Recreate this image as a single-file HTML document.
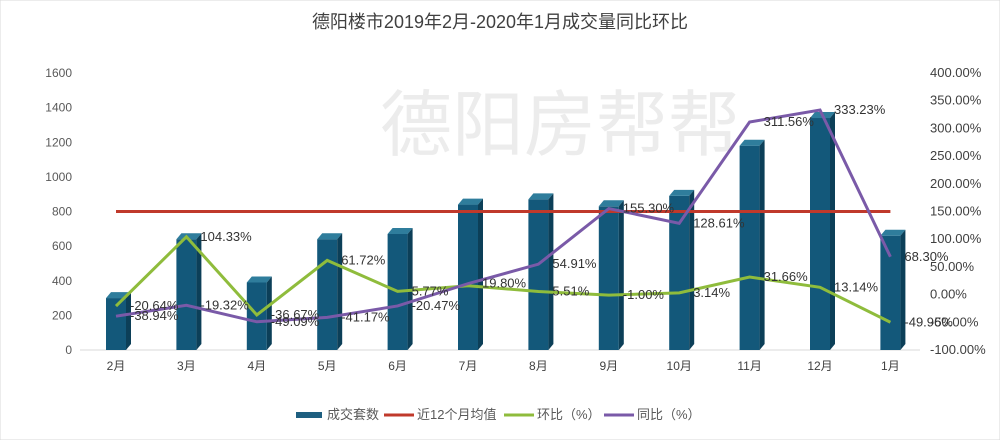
<!DOCTYPE html>
<html><head><meta charset="utf-8"><style>
body{margin:0;background:#fff;}
svg{display:block;font-family:"Liberation Sans","Noto Sans CJK SC",sans-serif;}
</style></head><body>
<svg id="c" width="1000" height="440" viewBox="0 0 1000 440">
<rect x="0" y="0" width="1000" height="440" fill="#fff" stroke="#d9d9d9"/>
<text x="500" y="28" text-anchor="middle" font-size="18" fill="#404040">德阳楼市2019年2月-2020年1月成交量同比环比</text>
<text x="560" y="150" text-anchor="middle" font-size="72" fill="#ececec">德阳房帮帮</text>
<g id="g"></g>
<g font-size="13" fill="#595959">
<rect x="296" y="412" width="26" height="6" fill="#1e5f80"/>
<text x="327" y="419">成交套数</text>
<line x1="384" y1="415" x2="414" y2="415" stroke="#c0392b" stroke-width="3"/>
<text x="417" y="419">近12个月均值</text>
<line x1="504" y1="415" x2="534" y2="415" stroke="#8fbc3c" stroke-width="3"/>
<text x="537" y="419">环比（%）</text>
<line x1="604" y1="415" x2="634" y2="415" stroke="#7a5aa8" stroke-width="3"/>
<text x="637" y="419">同比（%）</text>
</g>
</svg>
<script>
const categories=["2月","3月","4月","5月","6月","7月","8月","9月","10月","11月","12月","1月"];
const volume=[300,640,390,640,670,840,870,830,890,1180,1340,660];
const average=[800,800,800,800,800,800,800,800,800,800,800,800];
const mom=[-20.64,104.33,-36.67,61.72,5.77,16.0,5.51,-1.00,3.14,31.66,13.14,-49.96];
const momLabels=["-20.64%","104.33%","-36.67%","61.72%","5.77%","","5.51%","-1.00%","3.14%","31.66%","13.14%","-49.96%"];
const yoy=[-38.94,-19.32,-49.09,-41.17,-20.47,19.80,54.91,155.30,128.61,311.56,333.23,68.30];
const yoyLabels=["-38.94%","-19.32%","-49.09%","-41.17%","-20.47%","19.80%","54.91%","155.30%","128.61%","311.56%","333.23%","68.30%"];
const leftTicks=[0,200,400,600,800,1000,1200,1400,1600];
const rightTicks=[-100,-50,0,50,100,150,200,250,300,350,400];

const NS="http://www.w3.org/2000/svg";
const g=document.getElementById('g');
const x0=116,dx=70.4,yB=350,yT=73;
const xs=i=>x0+i*dx;
const yL=v=>yB-(v/1600)*(yB-yT);
const yR=v=>yB-((v+100)/500)*(yB-yT);
function mk(t,a,p){const e=document.createElementNS(NS,t);for(const k in a)e.setAttribute(k,a[k]);(p||g).appendChild(e);return e;}
mk('line',{x1:80,y1:yB,x2:920,y2:yB,stroke:'#d9d9d9'});
leftTicks.forEach(v=>{const t=mk('text',{x:72,y:yL(v)+4,'text-anchor':'end','font-size':12,fill:'#595959'});t.textContent=v;

});
rightTicks.forEach(v=>{const t=mk('text',{x:930,y:yR(v)+4,'font-size':13,fill:'#404040'});t.textContent=v.toFixed(2)+'%';

});
categories.forEach((c,i)=>{const t=mk('text',{x:xs(i),y:370,'text-anchor':'middle','font-size':12,fill:'#404040'});t.textContent=c;

});
volume.forEach((v,i)=>{const x=xs(i)-10,y=yL(v),w=20;
const b=mk('g',{});


mk('rect',{x:x,y:y,width:w,height:yB-y,fill:'#13587a'},b);
mk('polygon',{points:`${x},${y} ${x+5},${y-6} ${x+w+5},${y-6} ${x+w},${y}`,fill:'#2f7d9c'},b);
mk('polygon',{points:`${x+w},${y} ${x+w+5},${y-6} ${x+w+5},${yB-6} ${x+w},${yB}`,fill:'#0c3f58'},b);});
const avg=mk('polyline',{points:average.map((v,i)=>xs(i)+','+yL(v)).join(' '),fill:'none',stroke:'#c0392b','stroke-width':3});


const m=mk('polyline',{points:mom.map((v,i)=>xs(i)+','+yR(v)).join(' '),fill:'none',stroke:'#8fbc3c','stroke-width':3});


const yo=mk('polyline',{points:yoy.map((v,i)=>xs(i)+','+yR(v)).join(' '),fill:'none',stroke:'#7a5aa8','stroke-width':3});


mom.forEach((v,i)=>{if(!momLabels[i])return;const t=mk('text',{x:xs(i)+14,y:yR(v)+4,'font-size':13,fill:'#333'});t.textContent=momLabels[i];

});
yoy.forEach((v,i)=>{const t=mk('text',{x:xs(i)+14,y:yR(v)+4,'font-size':13,fill:'#333'});t.textContent=yoyLabels[i];

});
</script>
</body></html>
